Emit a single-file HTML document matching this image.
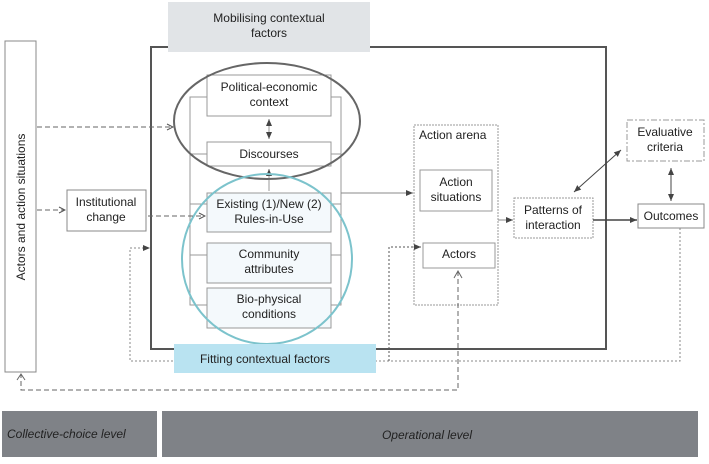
<!DOCTYPE html>
<html><head><meta charset="utf-8"><style>
body{margin:0;background:#fff;}
svg text{font-family:"Liberation Sans",sans-serif;font-size:12px;fill:#222;}
</style></head><body>
<svg width="709" height="459" viewBox="0 0 709 459" xmlns="http://www.w3.org/2000/svg">
<defs>
<marker id="a" markerWidth="8" markerHeight="8" refX="7" refY="4" orient="auto" markerUnits="userSpaceOnUse"><path d="M1,1 L7,4 L1,7" fill="none" stroke="#555" stroke-width="1"/></marker>
<marker id="f" markerWidth="8" markerHeight="8" refX="7" refY="4" orient="auto" markerUnits="userSpaceOnUse"><path d="M0,1 L7,4 L0,7z" fill="#444"/></marker>
<marker id="fs" markerWidth="8" markerHeight="8" refX="1" refY="4" orient="auto" markerUnits="userSpaceOnUse"><path d="M8,1 L1,4 L8,7z" fill="#444"/></marker>
</defs>
<rect x="151" y="47" width="455" height="302" fill="none" stroke="#555" stroke-width="2"/>
<rect x="168" y="2" width="202" height="50" fill="#e1e4e7"/>
<text x="269" y="22" text-anchor="middle">Mobilising contextual</text>
<text x="269" y="37" text-anchor="middle">factors</text>
<rect x="5" y="41" width="31" height="331" fill="#fff" stroke="#888"/>
<text transform="translate(25,207) rotate(-90)" text-anchor="middle" font-size="13">Actors and action situations</text>
<rect x="190" y="97" width="151" height="208" fill="none" stroke="#999"/>
<line x1="190" y1="154" x2="207" y2="154" stroke="#999"/><line x1="331" y1="154" x2="341" y2="154" stroke="#999"/>
<line x1="190" y1="204" x2="207" y2="204" stroke="#999"/><line x1="331" y1="204" x2="341" y2="204" stroke="#999"/>
<line x1="190" y1="255" x2="207" y2="255" stroke="#999"/><line x1="331" y1="255" x2="341" y2="255" stroke="#999"/>
<rect x="207" y="75" width="124" height="41" fill="#fff" stroke="#999"/>
<text x="269" y="91" text-anchor="middle">Political-economic</text><text x="269" y="106" text-anchor="middle">context</text>
<rect x="207" y="142" width="124" height="24" fill="#fff" stroke="#999"/>
<text x="269" y="158" text-anchor="middle">Discourses</text>
<line x1="269" y1="119" x2="269" y2="139" stroke="#999" marker-end="url(#f)" marker-start="url(#fs)"/>
<line x1="269" y1="169" x2="269" y2="191" stroke="#999" marker-start="url(#fs)"/>
<rect x="207" y="193" width="124" height="39" fill="#f4f9fc" stroke="#999"/>
<text x="269" y="208" text-anchor="middle">Existing (1)/New (2)</text><text x="269" y="223" text-anchor="middle">Rules-in-Use</text>
<rect x="207" y="243" width="124" height="40" fill="#f4f9fc" stroke="#999"/>
<text x="269" y="258" text-anchor="middle">Community</text><text x="269" y="273" text-anchor="middle">attributes</text>
<rect x="207" y="288" width="124" height="40" fill="#f4f9fc" stroke="#999"/>
<text x="269" y="303" text-anchor="middle">Bio-physical</text><text x="269" y="318" text-anchor="middle">conditions</text>
<ellipse cx="267" cy="121" rx="93" ry="58" fill="none" stroke="#666" stroke-width="2"/>
<circle cx="267" cy="259" r="85" fill="none" stroke="#7cc3cc" stroke-width="2"/>
<rect x="67" y="190" width="79" height="41" fill="#fff" stroke="#888"/>
<text x="106" y="206" text-anchor="middle">Institutional</text><text x="106" y="221" text-anchor="middle">change</text>
<line x1="37" y1="127" x2="173" y2="127" stroke="#666" stroke-dasharray="5,3" marker-end="url(#a)"/>
<line x1="37" y1="210" x2="65" y2="210" stroke="#666" stroke-dasharray="5,3" marker-end="url(#a)"/>
<line x1="148" y1="216" x2="205" y2="216" stroke="#666" stroke-dasharray="5,3" marker-end="url(#a)"/>
<line x1="341" y1="193" x2="413" y2="193" stroke="#888" marker-end="url(#f)"/>
<rect x="414" y="125" width="84" height="180" fill="none" stroke="#999" stroke-dasharray="2,1"/>
<text x="419" y="139" font-size="12">Action arena</text>
<rect x="420" y="170" width="72" height="41" fill="#fff" stroke="#999"/>
<text x="456" y="186" text-anchor="middle">Action</text><text x="456" y="201" text-anchor="middle">situations</text>
<rect x="423" y="243" width="72" height="25" fill="#fff" stroke="#999"/>
<text x="459" y="258" text-anchor="middle">Actors</text>
<line x1="498" y1="220" x2="513" y2="220" stroke="#888" marker-end="url(#f)"/>
<rect x="514" y="198" width="79" height="40" fill="#fff" stroke="#999" stroke-dasharray="2,1"/>
<text x="553" y="214" text-anchor="middle">Patterns of</text><text x="553" y="229" text-anchor="middle">interaction</text>
<line x1="593" y1="220" x2="637" y2="220" stroke="#444" stroke-width="1.5" marker-end="url(#f)"/>
<rect x="627" y="120" width="77" height="41" fill="#fff" stroke="#999" stroke-dasharray="6,2,2,2"/>
<text x="665" y="136" text-anchor="middle">Evaluative</text><text x="665" y="151" text-anchor="middle">criteria</text>
<rect x="638" y="204" width="66" height="24" fill="#fff" stroke="#888"/>
<text x="671" y="220" text-anchor="middle">Outcomes</text>
<line x1="574" y1="192" x2="621" y2="150" stroke="#444" marker-end="url(#f)" marker-start="url(#fs)"/>
<line x1="671" y1="168" x2="671" y2="201" stroke="#444" marker-end="url(#f)" marker-start="url(#fs)"/>
<polyline points="680,228 680,361 130,361 130,248 150,248" fill="none" stroke="#888" stroke-dasharray="2,2" marker-end="url(#f)"/>
<polyline points="389,361 389,247 421,247" fill="none" stroke="#555" stroke-dasharray="2,2" marker-end="url(#f)"/>
<rect x="174" y="344" width="202" height="29" fill="#b9e3f1"/>
<text x="265" y="363" text-anchor="middle">Fitting contextual factors</text>
<polyline points="458,271 458,390 21,390 21,374" fill="none" stroke="#666" stroke-dasharray="5,3"/>
<path d="M454,278 L458,271 L462,278 M17,380 L21,374 L25,380" fill="none" stroke="#666"/>
<rect x="2" y="411" width="155" height="46" fill="#7f8287"/>
<rect x="162" y="411" width="536" height="46" fill="#7f8287"/>
<text x="7" y="438" font-style="italic" font-size="12">Collective-choice level</text>
<text x="427" y="439" text-anchor="middle" font-style="italic" font-size="12">Operational level</text>
</svg>
</body></html>
